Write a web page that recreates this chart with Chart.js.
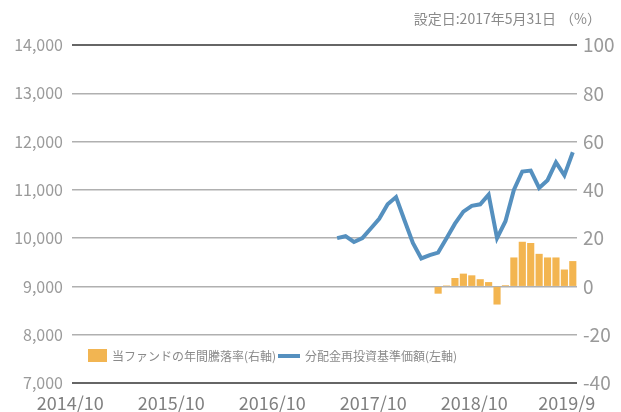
<!DOCTYPE html>
<html>
<head>
<meta charset="utf-8">
<script src="https://cdn.jsdelivr.net/npm/chart.js@4/dist/chart.umd.min.js"></script>
<style>
  body { margin: 0; background: #fff; }
  #wrap { width: 621px; height: 412px; }
</style>
</head>
<body>
<div id="wrap"><canvas id="fundChart"></canvas></div>
<script>
// months 2014/10 .. 2019/9
const months = [];
for (let y = 2014, m = 10; months.length < 60; m++) {
  if (m > 12) { m = 1; y++; }
  months.push(y + "/" + m);
}
const tickLabels = ["2014/10", "2015/10", "2016/10", "2017/10", "2018/10", "2019/9"];

// 分配金再投資基準価額 (2017/5 - 2019/9)
const navMonths = months.slice(31);
const navValues = [
  10000, 10040, 9920, 10000, 10200, 10400, 10700, 10850, 10370, 9900,
  9580, 9650, 9700, 10000, 10300, 10550, 10670, 10700, 10900, 10000,
  10350, 11000, 11380, 11400, 11040, 11200, 11570, 11300, 11780,
];

// 当ファンドの年間騰落率 (2018/5 - 2019/9)
const retMonths = months.slice(43);
const retValues = [
  -3, 0.4, 3.5, 5.3, 4.6, 3.0, 1.8, -7.5, 0.5, 12, 18.5, 18, 13.5, 12, 12, 7, 10.5,
];

const navLabel = "分配金再投資基準価額(左軸)";
const retLabel = "当ファンドの年間騰落率(右軸)";
const FONT = "'Noto Sans CJK JP', 'Noto Sans', sans-serif";

const toSeries = (cats, vals) =>
  months.map((m) => { const k = cats.indexOf(m); return k < 0 ? null : vals[k]; });

const extrasPlugin = {
  id: "extrasPlugin",
  afterDraw(chart) {
    const { ctx } = chart;
    ctx.save();
    ctx.fillStyle = "#8a8a8a";
    ctx.font = "14px " + FONT;
    ctx.textBaseline = "middle";
    ctx.textAlign = "right";
    ctx.fillText("設定日:2017年5月31日", 556, 19);
    ctx.textAlign = "left";
    ctx.fillText("（%）", 560, 19);

    // legend
    const y = 356;
    ctx.font = "12px " + FONT;
    ctx.fillStyle = "#f2b552";
    ctx.fillRect(88, 349, 19, 13);
    ctx.fillStyle = "#8a8a8a";
    ctx.fillText(chart.data.datasets[1].label, 112, y);
    ctx.strokeStyle = "#5590bf";
    ctx.lineWidth = 4;
    ctx.beginPath();
    ctx.moveTo(278, y);
    ctx.lineTo(300, y);
    ctx.stroke();
    ctx.fillText(chart.data.datasets[0].label, 305, y);
    ctx.restore();
  },
};

new Chart(document.getElementById("fundChart"), {
  data: {
    labels: months,
    datasets: [
      {
        type: "line",
        label: navLabel,
        data: toSeries(navMonths, navValues),
        borderColor: "#5590bf",
        borderWidth: 4,
        pointRadius: 0,
        tension: 0,
        yAxisID: "y",
        order: 1,
      },
      {
        type: "bar",
        label: retLabel,
        data: toSeries(retMonths, retValues),
        backgroundColor: "#f3b550",
        barPercentage: 0.85,
        categoryPercentage: 1,
        yAxisID: "y1",
        order: 2,
      },
    ],
  },
  options: {
    responsive: true,
    maintainAspectRatio: false,
    animation: false,
    layout: { padding: { top: 45, left: 0, right: 0, bottom: 0 } },
    plugins: {
      legend: { display: false },
      tooltip: { enabled: false },
    },
    scales: {
      x: {
        offset: true,
        grid: { display: false },
        border: { display: false },
        afterFit: (s) => { s.height = 29; },
        ticks: {
          autoSkip: false,
          maxRotation: 0,
          padding: 1,
          labelOffset: -6,
          color: "#808080",
          font: { size: 18, family: FONT },
          callback: (v, i) => (tickLabels.includes(months[i]) ? months[i] : ""),
        },
      },
      y: {
        position: "left",
        min: 7000,
        max: 14000,
        afterFit: (s) => { s.width = 72; },
        border: { display: false },
        grid: {
          drawTicks: false,
          color: (c) => (c.tick.value === 7000 || c.tick.value === 14000 ? "#666" : "#b0b0b0"),
          lineWidth: (c) => (c.tick.value === 7000 || c.tick.value === 14000 ? 2 : 1.5),
        },
        ticks: {
          stepSize: 1000,
          padding: 9,
          color: "#9a9a9a",
          font: { size: 16, family: FONT },
          callback: (v) => v.toLocaleString("en-US"),
        },
      },
      y1: {
        position: "right",
        min: -40,
        max: 100,
        afterFit: (s) => { s.width = 44; },
        border: { display: false },
        grid: { drawOnChartArea: false, drawTicks: false },
        ticks: {
          stepSize: 20,
          padding: 6,
          color: "#9a9a9a",
          font: { size: 19, family: FONT },
        },
      },
    },
  },
  plugins: [extrasPlugin],
});
</script>
</body>
</html>
